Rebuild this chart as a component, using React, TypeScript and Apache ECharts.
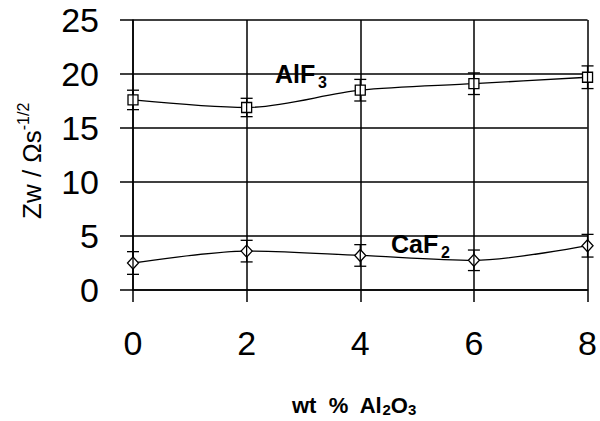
import React, { useEffect, useRef } from "react";
import * as echarts from "echarts";

const xValues = [0, 2, 4, 6, 8];
const alf3Values = [17.6, 16.9, 18.5, 19.1, 19.7];
const alf3Err = [0.9, 0.85, 1.0, 1.0, 1.05];
const caf2Values = [2.5, 3.6, 3.2, 2.75, 4.1];
const caf2Err = [1.05, 1.0, 1.0, 0.95, 1.05];
const xTicks = [0, 2, 4, 6, 8];
const yTicks = [0, 5, 10, 15, 20, 25];

const FONT = "Liberation Sans, Arial, sans-serif";

export default function App() {
  const ref = useRef<HTMLDivElement>(null);
  useEffect(() => {
    if (!ref.current) return;
    const chart = echarts.init(ref.current, undefined, { renderer: "svg" });

    const errData = (vals: number[], errs: number[]) =>
      xValues.map((x, i) => [x, vals[i] - errs[i], vals[i] + errs[i]]);

    const renderErr = (params: any, api: any) => {
      const x = api.value(0);
      const lo = api.coord([x, api.value(1)]);
      const hi = api.coord([x, api.value(2)]);
      const w = 6;
      const style = { stroke: "#000", lineWidth: 1.3 };
      return {
        type: "group",
        children: [
          { type: "line", shape: { x1: lo[0], y1: lo[1], x2: hi[0], y2: hi[1] }, style },
          { type: "line", shape: { x1: lo[0] - w, y1: lo[1], x2: lo[0] + w, y2: lo[1] }, style },
          { type: "line", shape: { x1: hi[0] - w, y1: hi[1], x2: hi[0] + w, y2: hi[1] }, style },
        ],
      };
    };

    const lineStyle = { color: "#000", width: 1.3 };

    chart.setOption({
      animation: false,
      backgroundColor: "#fff",
      grid: { left: 133, right: 7, top: 20, bottom: 131 },
      xAxis: {
        type: "value",
        min: 0,
        max: 8,
        interval: 2,
        axisLine: { show: true, lineStyle: { color: "#000", width: 1.5 } },
        axisTick: { show: true, length: 12, lineStyle: { color: "#000", width: 1.5 } },
        axisLabel: {
          margin: 36,
          fontSize: 34,
          color: "#000",
          fontFamily: FONT,
          formatter: (v: number) => (xTicks.includes(v) ? String(v) : ""),
        },
        splitLine: { show: true, lineStyle: { color: "#000", width: 1.5 } },
      },
      yAxis: {
        type: "value",
        min: 0,
        max: 25,
        interval: 5,
        axisLine: { show: true, lineStyle: { color: "#000", width: 1.5 } },
        axisTick: { show: true, length: 13, lineStyle: { color: "#000", width: 1.5 } },
        axisLabel: {
          margin: 34,
          fontSize: 34,
          color: "#000",
          fontFamily: FONT,
          formatter: (v: number) => (yTicks.includes(v) ? String(v) : ""),
        },
        splitLine: { show: true, lineStyle: { color: "#000", width: 1.5 } },
      },
      series: [
        {
          name: "AlF3",
          type: "line",
          smooth: 0.3,
          data: xValues.map((x, i) => [x, alf3Values[i]]),
          symbol: "rect",
          symbolSize: 10,
          lineStyle,
          itemStyle: { color: "#fff", borderColor: "#000", borderWidth: 1.3 },
          z: 3,
        },
        {
          name: "CaF2",
          type: "line",
          smooth: 0.3,
          data: xValues.map((x, i) => [x, caf2Values[i]]),
          symbol: "diamond",
          symbolSize: [11, 12],
          lineStyle,
          itemStyle: { color: "#fff", borderColor: "#000", borderWidth: 1.3 },
          z: 3,
        },
        {
          type: "custom",
          renderItem: renderErr,
          data: errData(alf3Values, alf3Err),
          encode: { x: 0, y: [1, 2] },
          z: 5,
        },
        {
          type: "custom",
          renderItem: renderErr,
          data: errData(caf2Values, caf2Err),
          encode: { x: 0, y: [1, 2] },
          z: 5,
        },
      ],
      graphic: [
        {
          type: "text",
          left: 275,
          top: 61,
          style: { text: "AlF", font: `bold 25px ${FONT}`, fill: "#000" },
        },
        {
          type: "text",
          left: 318,
          top: 74,
          style: { text: "3", font: `bold 16px ${FONT}`, fill: "#000" },
        },
        {
          type: "text",
          left: 391,
          top: 231,
          style: { text: "CaF", font: `bold 25px ${FONT}`, fill: "#000" },
        },
        {
          type: "text",
          left: 441,
          top: 244,
          style: { text: "2", font: `bold 16px ${FONT}`, fill: "#000" },
        },
        {
          type: "text",
          left: 292,
          top: 394,
          style: {
            text: "{a|wt  %  Al}{s|2}{a|O}{s|3}",
            fill: "#000",
            rich: {
              a: { font: `bold 22px ${FONT}`, lineHeight: 26, verticalAlign: "top", fill: "#000" },
              s: { font: `bold 15px ${FONT}`, lineHeight: 15, padding: [8, 0, 0, 0], verticalAlign: "top", fill: "#000" },
            },
          },
        },
        {
          type: "text",
          x: 15,
          y: 219,
          rotation: Math.PI / 2,
          style: {
            text: "{a|Zw / Ωs}{s|-1/2}",
            fill: "#000",
            rich: {
              a: { font: `26px ${FONT}`, lineHeight: 30, verticalAlign: "bottom", fill: "#000" },
              s: { font: `16px ${FONT}`, lineHeight: 16, padding: [0, 0, 14, 0], verticalAlign: "bottom", fill: "#000" },
            },
          },
        },
      ],
    });
    return () => chart.dispose();
  }, []);
  return <div ref={ref} style={{ position: "fixed", left: 0, top: 0, width: 600, height: 421 }} />;
}
